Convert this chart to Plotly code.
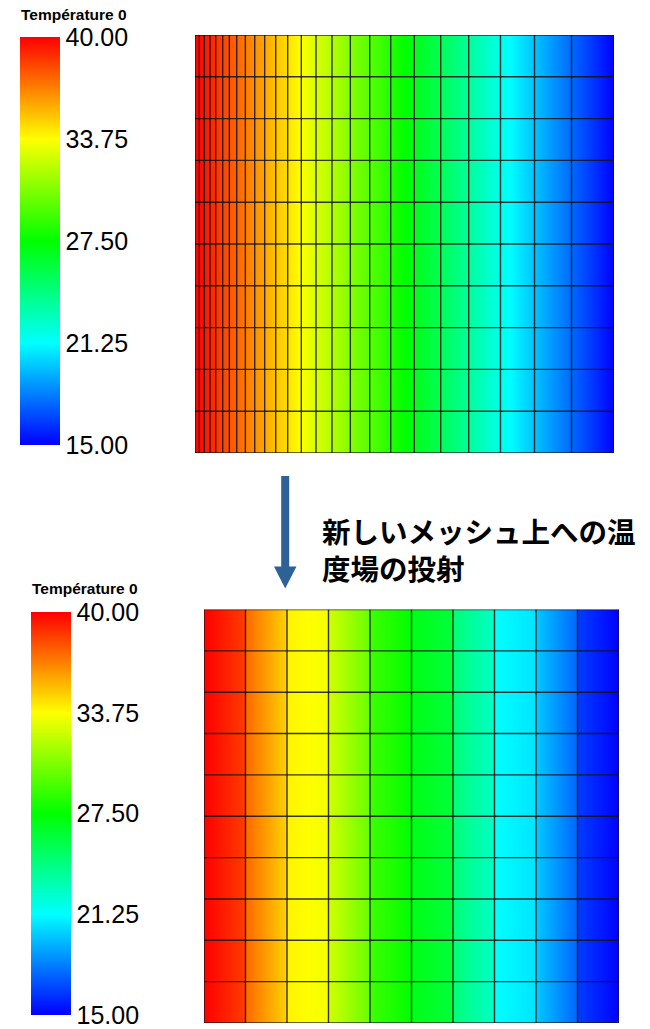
import plotly.graph_objects as go

W, H = 650, 1029

# ---------------- data ----------------
# top (original, graded) mesh: column node positions (normalised 0..1)
top_x_nodes = [0.0, 0.0103, 0.0222, 0.0358, 0.0494, 0.0661, 0.0819, 0.0995, 0.1201,
               0.1425, 0.1663, 0.1926, 0.2212, 0.2537, 0.2888, 0.3270, 0.3707, 0.4170,
               0.4671, 0.5234, 0.5864, 0.6532, 0.7291, 0.8103, 0.8986, 1.0]
# nodal temperatures on the top mesh
top_T_nodes = [40.0, 39.74, 39.45, 39.11, 38.77, 38.35, 37.95, 37.51, 37.0,
               36.44, 35.84, 35.19, 34.47, 33.66, 32.78, 31.83, 30.73, 29.58,
               28.32, 26.92, 25.34, 23.67, 21.77, 19.74, 17.54, 15.0]
top_y_nodes = [0.0, 0.1, 0.2, 0.3, 0.4, 0.5, 0.6, 0.7, 0.8, 0.9, 1.0]

# bottom (new, uniform) mesh
bot_x_nodes = [0.0, 0.1, 0.2, 0.3, 0.4, 0.5, 0.6, 0.7, 0.8, 0.9, 1.0]
bot_y_nodes = [0.0, 0.1, 0.2, 0.3, 0.4, 0.5, 0.6, 0.7, 0.8, 0.9, 1.0]
# projected temperature, left / right value in each cell
bot_T_left = [40.0, 37.4, 34.06, 32.6, 29.0, 26.98, 24.6, 21.25, 19.9, 16.46]
bot_T_right = [38.54, 34.8, 33.44, 30.0, 27.5, 26.04, 22.6, 20.6, 17.5, 15.0]

tick_vals = [15.0, 21.25, 27.5, 33.75, 40.0]
tick_text = ["15.00", "21.25", "27.50", "33.75", "40.00"]
cbar_title = "Température 0"
caption_lines = ["新しいメッシュ上への温", "度場の投射"]

T_MIN, T_MAX = 15.0, 40.0
rainbow = [[0.0, "rgb(0,0,255)"], [0.25, "rgb(0,255,255)"], [0.5, "rgb(0,255,0)"],
           [0.75, "rgb(255,255,0)"], [1.0, "rgb(255,0,0)"]]

def px_x(p):
    return p / W

def px_y(p):
    return 1 - p / H

fig = go.Figure()

cb_font = dict(family="Liberation Sans", size=25, color="black")

# ---------------- top mesh ----------------
fig.add_trace(go.Heatmap(
    x=top_x_nodes, y=[0.0, 1.0], z=[top_T_nodes, top_T_nodes],
    zmin=T_MIN, zmax=T_MAX, colorscale=rainbow, zsmooth="best",
    xaxis="x", yaxis="y", hoverinfo="skip",
    colorbar=dict(x=px_x(20), xanchor="left", xpad=0, ypad=0,
                  y=px_y(37), yanchor="top", len=408, lenmode="pixels",
                  thickness=40, thicknessmode="pixels", outlinewidth=0,
                  tickvals=tick_vals, ticktext=tick_text, ticks="", ticklen=0,
                  tickfont=cb_font),
))

def grid_lines(xn, yn):
    xs, ys = [], []
    for xv in xn:
        xs += [xv, xv, None]
        ys += [yn[0], yn[-1], None]
    for yv in yn:
        xs += [xn[0], xn[-1], None]
        ys += [yv, yv, None]
    return xs, ys

grid_line = dict(color="rgba(20,20,20,0.85)", width=1.4)

gx, gy = grid_lines(top_x_nodes, top_y_nodes)
fig.add_trace(go.Scatter(x=gx, y=gy, mode="lines", xaxis="x", yaxis="y",
                         line=grid_line, hoverinfo="skip", showlegend=False))

# ---------------- bottom mesh ----------------
eps = 0.0008
bx, bz = [], []
for i in range(len(bot_T_left)):
    bx += [bot_x_nodes[i] + eps, bot_x_nodes[i + 1] - eps]
    bz += [bot_T_left[i], bot_T_right[i]]

fig.add_trace(go.Heatmap(
    x=bx, y=[0.0, 1.0], z=[bz, bz],
    zmin=T_MIN, zmax=T_MAX, colorscale=rainbow, zsmooth="best",
    xaxis="x2", yaxis="y2", hoverinfo="skip",
    colorbar=dict(x=px_x(30.5), xanchor="left", xpad=0, ypad=0,
                  y=px_y(612), yanchor="top", len=403, lenmode="pixels",
                  thickness=40, thicknessmode="pixels", outlinewidth=0,
                  tickvals=tick_vals, ticktext=tick_text, ticks="", ticklen=0,
                  tickfont=cb_font),
))

gx2, gy2 = grid_lines(bot_x_nodes, bot_y_nodes)
fig.add_trace(go.Scatter(x=gx2, y=gy2, mode="lines", xaxis="x2", yaxis="y2",
                         line=grid_line, hoverinfo="skip", showlegend=False))

# ---------------- arrow ----------------
arrow_col = "#2E6296"
shapes = [
    dict(type="rect", xref="paper", yref="paper",
         x0=px_x(281.2), x1=px_x(289.2), y0=px_y(567), y1=px_y(476),
         fillcolor=arrow_col, line=dict(width=0)),
    dict(type="path", xref="paper", yref="paper",
         path=f"M {px_x(274)} {px_y(566.5)} L {px_x(296.5)} {px_y(566.5)} L {px_x(285.2)} {px_y(588.5)} Z",
         fillcolor=arrow_col, line=dict(width=0)),
]

title_font = dict(family="Liberation Sans", size=15.5, color="black")
annotations = [
    dict(text=f"<b>{cbar_title}</b>", xref="paper", yref="paper", x=px_x(19), y=px_y(14),
         xanchor="left", yanchor="middle", showarrow=False, font=title_font),
    dict(text=f"<b>{cbar_title}</b>", xref="paper", yref="paper", x=px_x(29.5), y=px_y(588),
         xanchor="left", yanchor="middle", showarrow=False, font=title_font),
    dict(text="<br>".join(f"<b>{t}</b>" for t in caption_lines),
         xref="paper", yref="paper", x=px_x(320), y=px_y(549),
         xanchor="left", yanchor="middle", align="left", showarrow=False,
         font=dict(family="Noto Sans CJK JP", size=28.5, color="black")),
]

ax_common = dict(visible=False, range=[0, 1], fixedrange=True)
fig.update_layout(
    width=W, height=H, margin=dict(l=0, r=0, t=0, b=0),
    paper_bgcolor="white", plot_bgcolor="white", showlegend=False,
    xaxis=dict(domain=[px_x(195), px_x(614)], anchor="y", **ax_common),
    yaxis=dict(domain=[px_y(453), px_y(35)], anchor="x", **ax_common),
    xaxis2=dict(domain=[px_x(204), px_x(619)], anchor="y2", **ax_common),
    yaxis2=dict(domain=[px_y(1023), px_y(609.5)], anchor="x2", **ax_common),
    shapes=shapes, annotations=annotations,
)

fig.write_html("out.html", config={"displayModeBar": False},
               post_script="document.body.style.margin='0px';document.body.style.overflow='hidden';")
